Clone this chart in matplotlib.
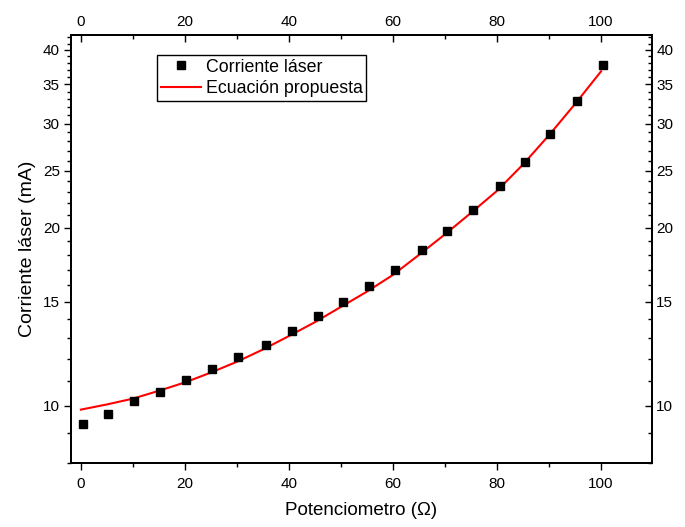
import matplotlib
matplotlib.use("Agg")
import matplotlib.pyplot as plt
from matplotlib.ticker import FixedLocator, NullFormatter, FixedFormatter

plt.rcParams['font.family'] = ['Liberation Sans', 'DejaVu Sans']

# Measured data (Corriente láser)
pot_x = [0.5, 5.3, 10.2, 15.2, 20.3, 25.2, 30.2, 35.5, 40.5, 45.5, 50.3,
         55.4, 60.4, 65.5, 70.3, 75.3, 80.6, 85.4, 90.2, 95.3, 100.4]
corriente_y = [9.31, 9.68, 10.17, 10.53, 11.07, 11.52, 12.11, 12.69, 13.36,
               14.17, 14.96, 15.97, 16.94, 18.36, 19.74, 21.46, 23.5, 25.85,
               28.87, 32.75, 37.65]

# Proposed equation curve
fit_x = [0, 5, 10, 15, 20, 25, 30, 35, 40, 45, 50, 55, 60, 65, 70, 75, 80,
         85, 90, 95, 100]
fit_y = [9.85, 10.05, 10.28, 10.6, 10.95, 11.38, 11.87, 12.45, 13.12, 13.85,
         14.7, 15.6, 16.65, 18.0, 19.5, 21.2, 23.1, 25.6, 28.7, 32.4, 36.8]

x_major = [0, 20, 40, 60, 80, 100]
x_minor = [10, 30, 50, 70, 90, 110]
y_major = [10, 15, 20, 25, 30, 35, 40]
y_major_labels = ['10', '15', '20', '25', '30', '35', '40']
y_minor = [8, 9, 11, 12, 13, 14, 16, 17, 18, 19, 21, 22, 23, 24, 26, 27, 28,
           29, 31, 32, 33, 34, 36, 37, 38, 39, 41, 42]

xlim = (-1.9, 109.8)
ylim = (8.0, 42.4)

fig = plt.figure(figsize=(6.85, 5.27), dpi=100)
ax = fig.add_axes([71/685, 1-463/527, 581/685, 428/527])

ax.plot(fit_x, fit_y, color='#ff0000', lw=1.5, label='Ecuación propuesta', zorder=2)
ax.plot(pot_x, corriente_y, ls='none', marker='s', ms=6.3, color='black',
        label='Corriente láser', zorder=3)

ax.set_yscale('log')
ax.set_xlim(*xlim)
ax.set_ylim(*ylim)

def style_y(a):
    a.yaxis.set_major_locator(FixedLocator(y_major))
    a.yaxis.set_major_formatter(FixedFormatter(y_major_labels))
    a.yaxis.set_minor_locator(FixedLocator(y_minor))
    a.yaxis.set_minor_formatter(NullFormatter())

def style_x(a):
    a.xaxis.set_major_locator(FixedLocator(x_major))
    a.xaxis.set_minor_locator(FixedLocator(x_minor))
    a.xaxis.set_minor_formatter(NullFormatter())

style_x(ax)
style_y(ax)
ax.tick_params(axis='both', which='major', direction='out', length=5, width=1,
               labelsize=11, pad=3)
ax.tick_params(axis='x', which='major', pad=5)
ax.tick_params(axis='both', which='minor', direction='out', length=3, width=1)

# top axis
axt = ax.twiny()
axt.set_xlim(*xlim)
style_x(axt)
axt.tick_params(axis='x', which='major', direction='in', length=5, width=1,
                labelsize=11, pad=4)
axt.tick_params(axis='x', which='minor', direction='in', length=3, width=1)

# right axis
axr = ax.twinx()
axr.set_yscale('log')
axr.set_ylim(*ylim)
style_y(axr)
axr.tick_params(axis='y', which='major', direction='in', length=5, width=1,
                labelsize=11, pad=3)
axr.tick_params(axis='y', which='minor', direction='in', length=3, width=1)

for a in (ax, axt, axr):
    for s in a.spines.values():
        s.set_linewidth(1.2)

ax.set_xlabel('Potenciometro (Ω)', fontsize=13.5, labelpad=8)
ax.set_ylabel('Corriente láser (mA)', fontsize=14, labelpad=5)

handles, labels = ax.get_legend_handles_labels()
order = [1, 0]
leg = ax.legend([handles[i] for i in order], [labels[i] for i in order],
                loc='upper left', bbox_to_anchor=(0.148, 0.953),
                fontsize=12.8, frameon=True, fancybox=False, framealpha=1,
                edgecolor='black', borderpad=0.2, labelspacing=0.25,
                handlelength=2.3, handletextpad=0.25, borderaxespad=0)
leg.get_frame().set_linewidth(1.0)

fig.savefig('out.png', dpi=100)
